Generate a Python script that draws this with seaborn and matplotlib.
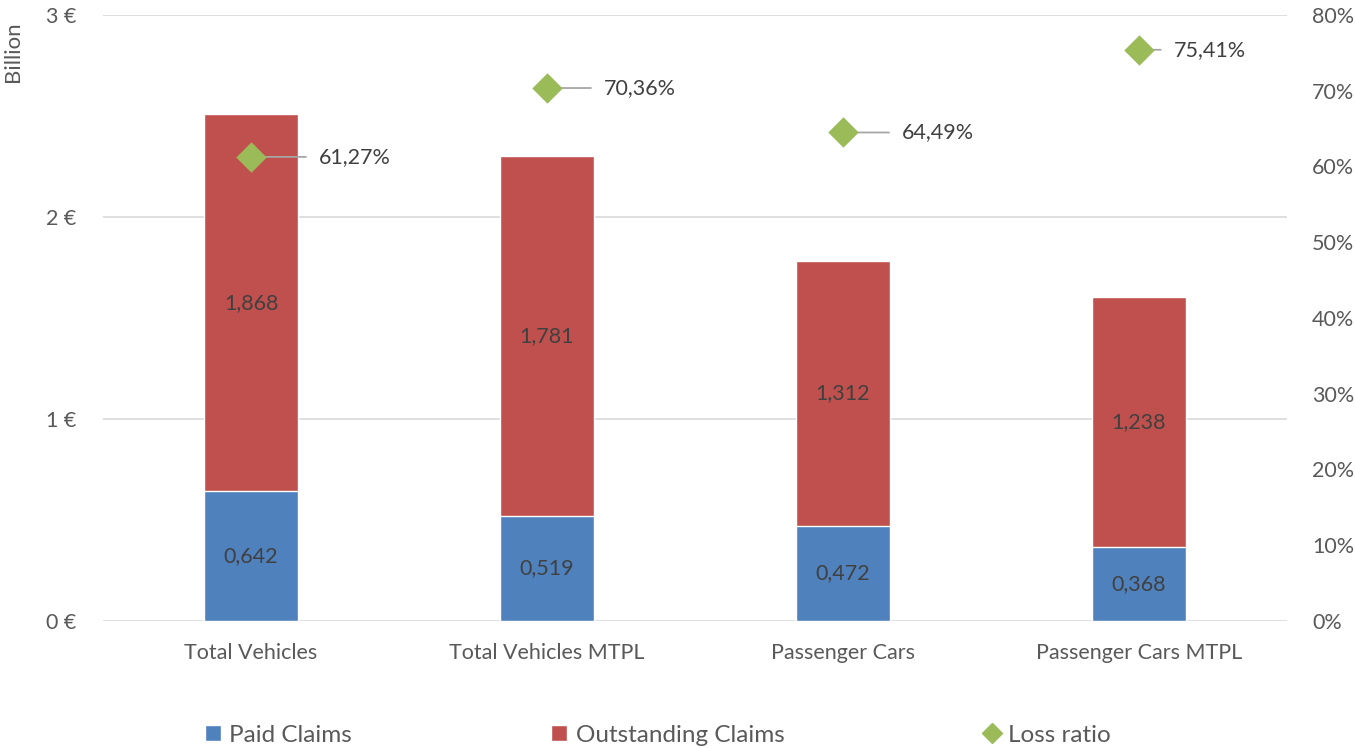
import matplotlib
matplotlib.use("Agg")
import matplotlib.pyplot as plt
import seaborn as sns
import numpy as np
import pandas as pd
from matplotlib.patches import Patch
from matplotlib.lines import Line2D

categories = ["Total Vehicles", "Total Vehicles MTPL", "Passenger Cars", "Passenger Cars MTPL"]
paid_claims = [0.642, 0.519, 0.472, 0.368]
outstanding_claims = [1.868, 1.781, 1.312, 1.238]
loss_ratio = [61.27, 70.36, 64.49, 75.41]
left_ticks = [0, 1, 2, 3]
right_ticks = [0, 10, 20, 30, 40, 50, 60, 70, 80]

# label offsets (points) for the loss-ratio callouts (styling)
label_offsets = [49, 41, 42.5, 25]

BLUE = "#4F81BD"
RED = "#C0504D"
GREEN = "#9BBB59"
TXT = "#595959"
LBL = "#404040"
FS = 15.5

sns.set_theme(style="white")
plt.rcParams["font.family"] = ["Lato", "DejaVu Sans"]

df = pd.DataFrame({"cat": categories, "paid": paid_claims, "out": outstanding_claims,
                   "lr": loss_ratio})
df["total"] = df["paid"] + df["out"]

fig = plt.figure(figsize=(13.55, 7.49), dpi=100)
ax = fig.add_axes([103/1355, 1 - 621/749, 1184/1355, 606/749])

sns.barplot(data=df, x="cat", y="total", color=RED, width=0.32, ax=ax,
            saturation=1, zorder=2)
sns.barplot(data=df, x="cat", y="paid", color=BLUE, width=0.32, ax=ax,
            saturation=1, zorder=3)

ax.set_xlim(-0.5, 3.5)
ax.set_ylim(0, 3)
ax.set_yticks(left_ticks)
ax.set_yticklabels([f"{v} €" for v in left_ticks])
ax.set_xlabel("")
ax.set_ylabel("")
ax.grid(axis="y", color="#D9D9D9", linewidth=1.2, zorder=0)
ax.set_axisbelow(True)
for s in ax.spines.values():
    s.set_visible(False)
ax.tick_params(axis="y", length=0, pad=19, labelsize=FS, labelcolor=TXT)
ax.tick_params(axis="x", length=0, pad=16, labelsize=FS, labelcolor=TXT)

# data labels in bars
for i, (p, o) in enumerate(zip(paid_claims, outstanding_claims)):
    ax.text(i, p / 2, f"{p:.3f}".replace(".", ","), ha="center", va="center",
            fontsize=FS, color=LBL, zorder=5)
    ax.text(i, p + o / 2, f"{o:.3f}".replace(".", ","), ha="center", va="center",
            fontsize=FS, color=LBL, zorder=5)

ax2 = ax.twinx()
xs = np.arange(len(categories))
sns.scatterplot(x=xs, y=df["lr"].values, marker="D", s=240, color=GREEN,
                edgecolor=GREEN, linewidth=0, ax=ax2, zorder=4, legend=False)
ax2.set_ylim(0, 80)
ax2.set_yticks(right_ticks)
ax2.set_yticklabels([f"{v}%" for v in right_ticks])
ax2.set_xlim(-0.5, 3.5)
for s in ax2.spines.values():
    s.set_visible(False)
ax2.tick_params(axis="y", length=0, pad=18, labelsize=FS, labelcolor=TXT)
ax2.grid(False)

for x, v, off in zip(xs, loss_ratio, label_offsets):
    ax2.annotate(f"{v:.2f}%".replace(".", ","), xy=(x, v), xytext=(off, 0),
                 textcoords="offset points", ha="left", va="center",
                 fontsize=FS, color=LBL,
                 arrowprops=dict(arrowstyle="-", color="#A6A6A6", lw=1.3,
                                 shrinkA=7, shrinkB=0))

fig.text(13/1355, 1 - 52/749, "Billion", rotation=90, ha="center", va="center",
         fontsize=16, color=TXT)

handles = [Patch(facecolor=BLUE, label="Paid Claims"),
           Patch(facecolor=RED, label="Outstanding Claims"),
           Line2D([0], [0], marker="D", color="none", markerfacecolor=GREEN,
                  markeredgecolor=GREEN, markersize=10, label="Loss ratio")]
leg = fig.legend(handles=handles, loc="center", ncol=3,
                 bbox_to_anchor=(658/1355, 1 - 735/749), frameon=False,
                 fontsize=17.5, columnspacing=8.2, handlelength=0.65,
                 handleheight=0.65, handletextpad=0.35, labelcolor=TXT)

fig.savefig("out.png", dpi=100)
